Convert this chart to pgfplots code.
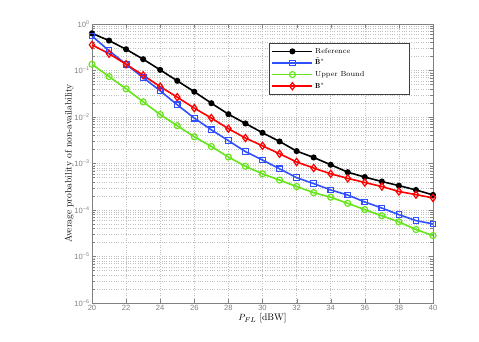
\documentclass[border=0pt]{standalone}
\usepackage{fontspec}
\usepackage{pgfplots}
\pgfplotsset{compat=1.18}
\newfontfamily\ticksfont{Liberation Sans}
\definecolor{refblue}{RGB}{48,80,255}
\definecolor{refgreen}{RGB}{102,230,26}
\definecolor{axgray}{RGB}{128,128,128}
\begin{document}
\begin{tikzpicture}
\useasboundingbox (-92pt,-38pt) rectangle (387pt,303pt);
\begin{axis}[
  at={(0pt,0pt)}, anchor=south west,
  scale only axis, width=341pt, height=279pt,
  ymode=log,
  xmin=20, xmax=40, ymin=1e-6, ymax=1,
  xtick={20,22,...,40},
  ytick={1e-6,1e-5,1e-4,1e-3,1e-2,1e-1,1},
  yticklabels={10\textsuperscript{−6},10\textsuperscript{−5},10\textsuperscript{−4},10\textsuperscript{−3},10\textsuperscript{−2},10\textsuperscript{−1},10\textsuperscript{0}},
  /pgf/number format/assume math mode=true,
  tick label style={font=\ticksfont\fontsize{7.6}{8}\selectfont, text=axgray},
  xticklabel style={yshift=1pt},
  yticklabel style={xshift=1pt},
  axis line style={axgray, line width=0.7pt},
  tick style={axgray},
  tick align=inside,
  xmajorgrids, ymajorgrids, yminorgrids,
  major grid style={axgray!50, line width=0.5pt, dash pattern=on 0.6pt off 1.8pt},
  minor grid style={axgray!50, line width=0.5pt, dash pattern=on 0.6pt off 1.8pt},
  xlabel={$P_{FL}$ [dBW]},
  ylabel={Average probability of non-availability},
  label style={font=\fontsize{9.5}{11}\selectfont},
  xlabel style={yshift=4pt},
  ylabel style={yshift=-6pt},
  legend image code/.code={\draw[mark repeat=2,mark phase=2] plot coordinates {(0pt,0pt) (20pt,0pt) (40pt,0pt)};},
  legend style={at={(0.9326,0.932)}, anchor=north east, draw=black!75, line width=0.6pt,
    font=\fontsize{7.3}{8}\selectfont, row sep=0.4pt, inner sep=2.5pt,
    nodes={text height=5.6pt, text depth=1.6pt}},
  legend cell align=left,
  every axis plot/.append style={line width=1.6pt},
]
\addplot[black, mark=*, mark size=2.2pt] coordinates {
(20,0.63) (21,0.44) (22,0.286) (23,0.175) (24,0.103) (25,0.060) (26,0.035) (27,0.0198)
(28,0.0115) (29,0.00726) (30,0.00458) (31,0.00298) (32,0.00185) (33,0.00135) (34,0.00094)
(35,0.00065) (36,0.00051) (37,0.00041) (38,0.000334) (39,0.00027) (40,0.000211)};
\addlegendentry{\makebox[90pt][l]{Reference}}
\addplot[refblue, mark=square, mark size=2.8pt, mark options={line width=1.2pt}] coordinates {
(20,0.55) (21,0.267) (22,0.136) (23,0.0705) (24,0.0365) (25,0.0183) (26,0.00946) (27,0.0053)
(28,0.0031) (29,0.0018) (30,0.00119) (31,0.00077) (32,0.000496) (33,0.00037) (34,0.00027)
(35,0.00021) (36,0.000149) (37,0.00011) (38,0.0000795) (39,0.0000592) (40,0.0000502)};
\addlegendentry{$\tilde{\mathbf{B}}^{*}$}
\addplot[refgreen, mark=o, mark size=3pt, mark options={line width=1.2pt}] coordinates {
(20,0.136) (21,0.074) (22,0.0403) (23,0.0212) (24,0.0113) (25,0.0065) (26,0.00376) (27,0.00232)
(28,0.00138) (29,0.00087) (30,0.0006) (31,0.00044) (32,0.00032) (33,0.000236) (34,0.000188)
(35,0.000139) (36,0.000102) (37,0.000075) (38,0.0000556) (39,0.000038) (40,0.0000282)};
\addlegendentry{Upper Bound}
\addplot[red, mark=diamond, mark size=3.6pt, mark options={line width=1.2pt}] coordinates {
(20,0.355) (21,0.23) (22,0.136) (23,0.079) (24,0.045) (25,0.0267) (26,0.0155) (27,0.0095)
(28,0.0056) (29,0.00353) (30,0.0024) (31,0.00162) (32,0.00108) (33,0.0008) (34,0.0006)
(35,0.00048) (36,0.00039) (37,0.00032) (38,0.00025) (39,0.000214) (40,0.000182)};
\addlegendentry{$\mathbf{B}^{*}$}
\end{axis}
\end{tikzpicture}
\end{document}
